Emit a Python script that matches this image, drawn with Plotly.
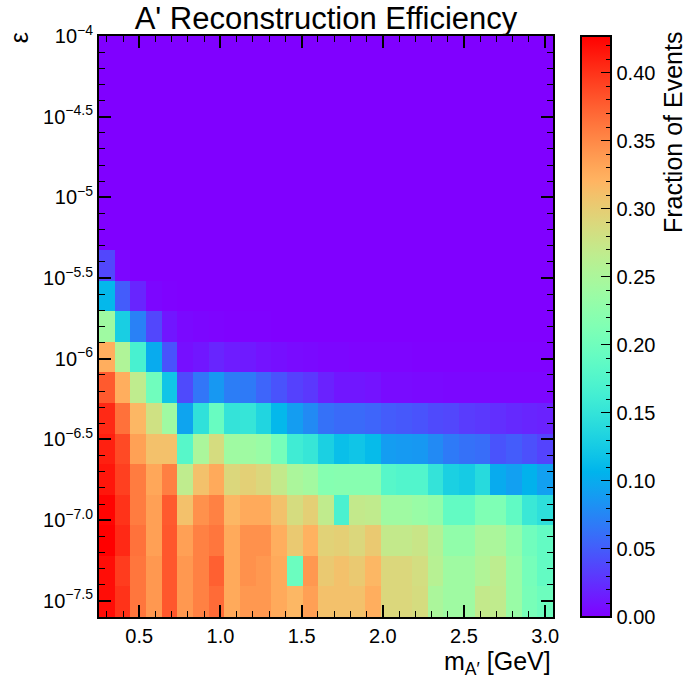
#%%
import plotly.graph_objects as go

# A' mass bin centres [GeV] and log10(epsilon) bin centres
mass_gev = [0.300, 0.396, 0.493, 0.589, 0.686, 0.782, 0.879, 0.975, 1.071, 1.168,
            1.264, 1.361, 1.457, 1.554, 1.650, 1.746, 1.843, 1.939, 2.036, 2.132,
            2.229, 2.325, 2.421, 2.518, 2.614, 2.711, 2.807, 2.904, 3.000]
log_eps = [-7.5053, -7.3158, -7.1263, -6.9368, -6.7474, -6.5579, -6.3684, -6.1789, -5.9895, -5.8000,
           -5.6105, -5.4211, -5.2316, -5.0421, -4.8526, -4.6632, -4.4737, -4.2842, -4.0947]
log_eps_range = [-7.6, -4.0]

# fraction of events reconstructed, one row per epsilon bin (bottom row first)
efficiency = [
    [0.420, 0.400, 0.362, 0.340, 0.380, 0.340, 0.355, 0.368, 0.328, 0.340, 0.340, 0.328, 0.318, 0.335, 0.310,
     0.310, 0.310, 0.325, 0.290, 0.290, 0.285, 0.250, 0.240, 0.240, 0.270, 0.268, 0.235, 0.207, 0.198],
    [0.420, 0.395, 0.362, 0.340, 0.380, 0.340, 0.355, 0.375, 0.328, 0.345, 0.340, 0.328, 0.196, 0.340, 0.303,
     0.310, 0.303, 0.318, 0.290, 0.290, 0.283, 0.260, 0.240, 0.240, 0.255, 0.265, 0.235, 0.205, 0.190],
    [0.427, 0.405, 0.364, 0.335, 0.380, 0.335, 0.355, 0.362, 0.328, 0.345, 0.345, 0.325, 0.303, 0.322, 0.295,
     0.298, 0.290, 0.303, 0.270, 0.270, 0.275, 0.257, 0.228, 0.228, 0.250, 0.250, 0.228, 0.200, 0.190],
    [0.425, 0.400, 0.358, 0.335, 0.378, 0.310, 0.345, 0.355, 0.318, 0.328, 0.328, 0.310, 0.285, 0.298, 0.268,
     0.168, 0.270, 0.268, 0.240, 0.240, 0.235, 0.228, 0.190, 0.190, 0.213, 0.212, 0.188, 0.155, 0.145],
    [0.415, 0.393, 0.358, 0.330, 0.356, 0.267, 0.310, 0.328, 0.290, 0.297, 0.290, 0.270, 0.250, 0.243, 0.218,
     0.220, 0.220, 0.220, 0.180, 0.175, 0.175, 0.150, 0.130, 0.125, 0.140, 0.100, 0.092, 0.105, 0.092],
    [0.410, 0.387, 0.334, 0.310, 0.310, 0.180, 0.250, 0.285, 0.240, 0.240, 0.235, 0.205, 0.160, 0.153, 0.130,
     0.115, 0.120, 0.112, 0.090, 0.088, 0.087, 0.078, 0.068, 0.062, 0.060, 0.045, 0.050, 0.043, 0.036],
    [0.405, 0.365, 0.318, 0.280, 0.240, 0.095, 0.147, 0.194, 0.150, 0.152, 0.135, 0.110, 0.090, 0.078, 0.062,
     0.058, 0.058, 0.055, 0.050, 0.048, 0.045, 0.040, 0.038, 0.032, 0.030, 0.025, 0.022, 0.020, 0.018],
    [0.378, 0.325, 0.267, 0.200, 0.120, 0.040, 0.065, 0.087, 0.070, 0.068, 0.055, 0.045, 0.035, 0.030, 0.018,
     0.012, 0.012, 0.010, 0.006, 0.006, 0.005, 0.005, 0.004, 0.004, 0.004, 0.003, 0.003, 0.003, 0.003],
    [0.325, 0.254, 0.167, 0.100, 0.045, 0.008, 0.012, 0.020, 0.015, 0.014, 0.010, 0.008, 0.006, 0.005, 0.003,
     0.003, 0.002, 0.002, 0.002, 0.002, 0.001, 0.001, 0.001, 0.001, 0.001, 0.001, 0.001, 0.001, 0.001],
    [0.240, 0.128, 0.072, 0.038, 0.012, 0.005, 0.003, 0.002, 0.001, 0.001, 0.001, 0.0, 0.0, 0.0, 0.0,
     0.0, 0.0, 0.0, 0.0, 0.0, 0.0, 0.0, 0.0, 0.0, 0.0, 0.0, 0.0, 0.0, 0.0],
    [0.110, 0.050, 0.020, 0.003, 0.001, 0.0, 0.0, 0.0, 0.0, 0.0, 0.0, 0.0, 0.0, 0.0, 0.0,
     0.0, 0.0, 0.0, 0.0, 0.0, 0.0, 0.0, 0.0, 0.0, 0.0, 0.0, 0.0, 0.0, 0.0],
    [0.038, 0.003, 0.0, 0.0, 0.0, 0.0, 0.0, 0.0, 0.0, 0.0, 0.0, 0.0, 0.0, 0.0, 0.0,
     0.0, 0.0, 0.0, 0.0, 0.0, 0.0, 0.0, 0.0, 0.0, 0.0, 0.0, 0.0, 0.0, 0.0],
    [0.0, 0.0, 0.0, 0.0, 0.0, 0.0, 0.0, 0.0, 0.0, 0.0, 0.0, 0.0, 0.0, 0.0, 0.0,
     0.0, 0.0, 0.0, 0.0, 0.0, 0.0, 0.0, 0.0, 0.0, 0.0, 0.0, 0.0, 0.0, 0.0],
    [0.0, 0.0, 0.0, 0.0, 0.0, 0.0, 0.0, 0.0, 0.0, 0.0, 0.0, 0.0, 0.0, 0.0, 0.0,
     0.0, 0.0, 0.0, 0.0, 0.0, 0.0, 0.0, 0.0, 0.0, 0.0, 0.0, 0.0, 0.0, 0.0],
    [0.0, 0.0, 0.0, 0.0, 0.0, 0.0, 0.0, 0.0, 0.0, 0.0, 0.0, 0.0, 0.0, 0.0, 0.0,
     0.0, 0.0, 0.0, 0.0, 0.0, 0.0, 0.0, 0.0, 0.0, 0.0, 0.0, 0.0, 0.0, 0.0],
    [0.0, 0.0, 0.0, 0.0, 0.0, 0.0, 0.0, 0.0, 0.0, 0.0, 0.0, 0.0, 0.0, 0.0, 0.0,
     0.0, 0.0, 0.0, 0.0, 0.0, 0.0, 0.0, 0.0, 0.0, 0.0, 0.0, 0.0, 0.0, 0.0],
    [0.0, 0.0, 0.0, 0.0, 0.0, 0.0, 0.0, 0.0, 0.0, 0.0, 0.0, 0.0, 0.0, 0.0, 0.0,
     0.0, 0.0, 0.0, 0.0, 0.0, 0.0, 0.0, 0.0, 0.0, 0.0, 0.0, 0.0, 0.0, 0.0],
    [0.0, 0.0, 0.0, 0.0, 0.0, 0.0, 0.0, 0.0, 0.0, 0.0, 0.0, 0.0, 0.0, 0.0, 0.0,
     0.0, 0.0, 0.0, 0.0, 0.0, 0.0, 0.0, 0.0, 0.0, 0.0, 0.0, 0.0, 0.0, 0.0],
    [0.0, 0.0, 0.0, 0.0, 0.0, 0.0, 0.0, 0.0, 0.0, 0.0, 0.0, 0.0, 0.0, 0.0, 0.0,
     0.0, 0.0, 0.0, 0.0, 0.0, 0.0, 0.0, 0.0, 0.0, 0.0, 0.0, 0.0, 0.0, 0.0],
]

ytick_vals = [-7.5, -7.0, -6.5, -6.0, -5.5, -5.0, -4.5, -4.0]
ytick_text = ["10<sup>−7.5</sup>", "10<sup>−7.0</sup>", "10<sup>−6.5</sup>", "10<sup>−6</sup>",
              "10<sup>−5.5</sup>", "10<sup>−5</sup>", "10<sup>−4.5</sup>", "10<sup>−4</sup>"]

#%%
import math

# matplotlib "rainbow" colormap
def rainbow(t):
    r = min(1.0, abs(2 * t - 0.5))
    g = math.sin(math.pi * t)
    b = math.cos(math.pi * t / 2)
    return "rgb(%d,%d,%d)" % (round(r * 255), round(g * 255), round(b * 255))

rainbow_scale = [[i / 40, rainbow(i / 40)] for i in range(41)]
zmax = max(max(r) for r in efficiency)
FONT = "Liberation Sans, Arial, sans-serif"

fig = go.Figure()
fig.add_trace(go.Heatmap(
    x=mass_gev, y=log_eps, z=efficiency,
    colorscale=rainbow_scale, zmin=0, zmax=zmax,
    colorbar=dict(x=1.0624, xanchor="left", xpad=0, y=0.5, yanchor="middle", len=1, ypad=0,
                  thickness=30, outlinewidth=2, outlinecolor="black",
                  ticks="inside", ticklen=11, tickwidth=1.3, tickcolor="black",
                  tick0=0, dtick=0.05, tickformat=".2f",
                  tickfont=dict(size=20, color="black", family=FONT)),
    hoverinfo="skip"))

# transparent second colorbar just for the minor ticks
fig.add_trace(go.Scatter(
    x=[None], y=[None], mode="markers", showlegend=False, hoverinfo="skip",
    marker=dict(color=[0], cmin=0, cmax=zmax,
                colorscale=[[0, "rgba(0,0,0,0)"], [1, "rgba(0,0,0,0)"]],
                showscale=True,
                colorbar=dict(x=1.0624, xanchor="left", xpad=0, y=0.5, yanchor="middle", len=1, ypad=0,
                              thickness=30, outlinewidth=0, bgcolor="rgba(0,0,0,0)",
                              ticks="inside", ticklen=5, tickwidth=1, tickcolor="black",
                              tick0=0, dtick=0.01, showticklabels=False))))

axis_common = dict(showline=True, linecolor="black", linewidth=2, mirror="ticks",
                   ticks="inside", ticklen=12, tickwidth=1.5, tickcolor="black",
                   showgrid=False, zeroline=False,
                   tickfont=dict(size=20, color="black", family=FONT))

fig.update_xaxes(**axis_common, tick0=0, dtick=0.5, tickformat=".1f",
                 minor=dict(ticks="inside", ticklen=6, tickwidth=1, tickcolor="black",
                            tick0=0, dtick=0.1, showgrid=False))
fig.update_yaxes(**axis_common, range=log_eps_range, tickmode="array",
                 tickvals=ytick_vals, ticktext=ytick_text,
                 minor=dict(ticks="inside", ticklen=6, tickwidth=1, tickcolor="black",
                            tickmode="linear", tick0=0, dtick=0.1, showgrid=False))

fig.update_layout(
    width=686, height=682,
    margin=dict(l=99, r=133, t=36, b=65, autoexpand=False),
    paper_bgcolor="white", plot_bgcolor="white",
    font=dict(family=FONT, color="black"),
    title=dict(text="A' Reconstruction Efficiency", x=0.5, xref="paper", xanchor="center",
               y=1 - 18 / 682, yref="container", yanchor="middle",
               font=dict(size=31, color="black", family=FONT)),
    annotations=[
        dict(text="m<sub>A′</sub> [GeV]", xref="paper", yref="paper", x=1.0, y=-0.079,
             xanchor="right", yanchor="middle", showarrow=False,
             font=dict(size=25, color="black", family=FONT)),
        dict(text="Fraction of Events", xref="paper", yref="paper", x=1.263, y=1.01,
             xanchor="center", yanchor="top", textangle=-90, showarrow=False,
             font=dict(size=25, color="black", family=FONT)),
        dict(text="ε", xref="paper", yref="paper", x=-0.177, y=1.01,
             xanchor="center", yanchor="top", textangle=-90, showarrow=False,
             font=dict(size=25, color="black", family=FONT)),
    ],
)

# drop the browser's default 8px body margin so the figure sits at the window origin
fig.write_html("out.html", config={"displayModeBar": False},
               post_script="document.body.style.margin='0px';")
